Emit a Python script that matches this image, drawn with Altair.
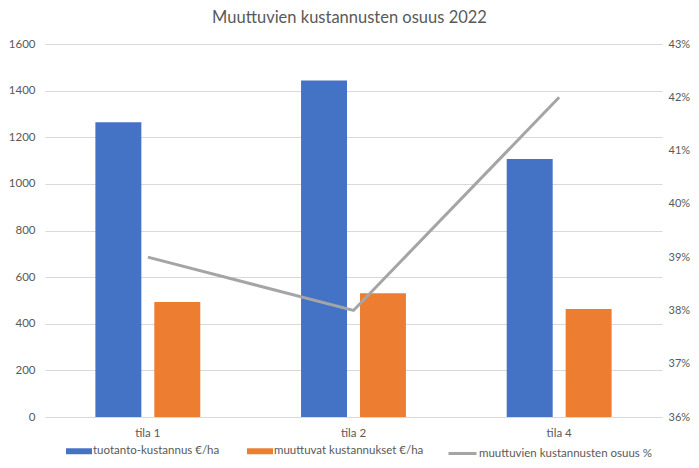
import altair as alt
import pandas as pd

categories = ["tila 1", "tila 2", "tila 4"]
series_names = ["tuotanto-kustannus €/ha", "muuttuvat kustannukset €/ha"]
tuotanto = [1264, 1443, 1107]
muuttuvat = [493, 531, 463]
line_name = "muuttuvien kustannusten osuus %"
osuus = [0.39, 0.38, 0.42]
left_ticks = [0, 200, 400, 600, 800, 1000, 1200, 1400, 1600]
right_ticks = [0.36, 0.37, 0.38, 0.39, 0.40, 0.41, 0.42, 0.43]

bar_colors = ["#4472C4", "#ED7D31"]
line_color = "#A5A5A5"
text_color = "#595959"
FONT = "Lato"

rows = []
for i, c in enumerate(categories):
    rows.append({"category": c, "series": series_names[0], "value": tuotanto[i]})
    rows.append({"category": c, "series": series_names[1], "value": muuttuvat[i]})
bars_df = pd.DataFrame(rows)
line_df = pd.DataFrame({"category": categories, "osuus": osuus, "name": [line_name] * 3})

x_enc = alt.X(
    "category:N",
    sort=categories,
    scale=alt.Scale(domain=categories, paddingInner=0.49, paddingOuter=0.245),
    axis=alt.Axis(title=None, labelAngle=0, labelPadding=10, grid=False, domain=False, ticks=False),
)

bars = alt.Chart(bars_df).mark_bar().encode(
    x=x_enc,
    xOffset=alt.XOffset("series:N", sort=series_names,
                        scale=alt.Scale(domain=series_names, paddingInner=0.22, paddingOuter=0)),
    y=alt.Y("value:Q", scale=alt.Scale(domain=[0, 1600], nice=False),
            axis=alt.Axis(title=None, values=left_ticks, format="d", labelPadding=10, grid=True,
                          gridColor="#D9D9D9", gridWidth=1, domain=False, ticks=False)),
    fill=alt.Fill("series:N", sort=series_names,
                  scale=alt.Scale(domain=series_names, range=bar_colors),
                  legend=alt.Legend(orient="none", legendX=21, legendY=394, direction="horizontal",
                                    title=None, symbolType="M-1,-0.23H1V0.23H-1Z", symbolSize=676,
                                    symbolStrokeWidth=0, symbolOpacity=1, labelOffset=1,
                                    columnPadding=27, labelLimit=400,
                                    labelFont=FONT, labelFontSize=11.5, labelColor=text_color)),
)

line = alt.Chart(line_df).mark_line(strokeWidth=3).encode(
    x=alt.X("category:N", sort=categories),
    y=alt.Y("osuus:Q", scale=alt.Scale(domain=[0.36, 0.43], nice=False, zero=False),
            axis=alt.Axis(title=None, orient="right", values=right_ticks, format=".0%",
                          labelPadding=6, labelFontSize=11, grid=False, domain=False, ticks=False)),
    stroke=alt.Stroke("name:N", scale=alt.Scale(domain=[line_name], range=[line_color]),
                      legend=alt.Legend(orient="none", legendX=402, legendY=394, title=None,
                                        symbolType="stroke", symbolSize=784, symbolStrokeWidth=3,
                                        labelOffset=1, labelLimit=400,
                                        labelFont=FONT, labelFontSize=11.5, labelColor=text_color)),
)

chart = alt.layer(bars, line).resolve_scale(y="independent", fill="independent", stroke="independent").properties(
    width=617,
    height=373,
    background="white",
    autosize=alt.AutoSizeParams(type="none"),
    padding={"left": 37, "top": 36, "right": 29, "bottom": 43},
    title=alt.TitleParams("Muuttuvien kustannusten osuus 2022", font=FONT, fontSize=16.5,
                          fontWeight="normal", color=text_color, anchor="middle", offset=12, dx=-4),
).configure_view(stroke=None).configure_axis(
    domain=False, ticks=False, labelFont=FONT, labelFontSize=11.5, labelColor=text_color
)

chart.save("out.html", embed_options={"renderer": "svg", "actions": False})
